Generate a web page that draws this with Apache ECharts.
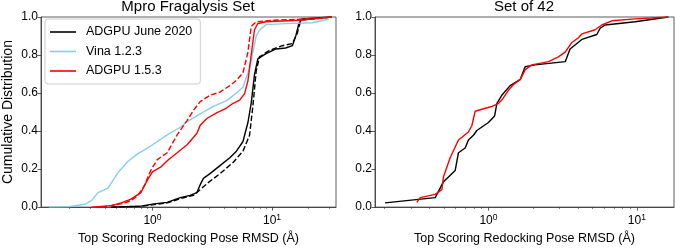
<!DOCTYPE html>
<html>
<head>
<meta charset="utf-8">
<script src="https://cdn.jsdelivr.net/npm/echarts@6/dist/echarts.min.js"></script>
<style>
  html, body { margin: 0; padding: 0; background: #fff; }
  #chart { width: 675px; height: 250px; }
</style>
</head>
<body>
<div id="chart"></div>
<script>
// Mpro Fragalysis set, RMSD (Å) and cumulative fraction
const fragJuneX = [0.452, 0.80, 1.03, 1.33, 1.71, 2.07, 2.35, 2.51, 2.67, 3.03, 3.67, 4.44, 5.04, 5.72, 6.29, 6.70, 7.14, 7.61, 8.92, 10.8, 13.0, 14.8, 15.8, 16.8, 17.9, 31.7];
const fragJuneY = [0, 0.005, 0.017, 0.025, 0.05, 0.062, 0.076, 0.118, 0.151, 0.176, 0.218, 0.26, 0.294, 0.345, 0.445, 0.546, 0.697, 0.78, 0.807, 0.832, 0.837, 0.849, 0.90, 0.966, 0.99, 1.0];

const fragJuneDashX = [0.452, 0.80, 1.33, 1.71, 2.21, 2.51, 2.85, 3.67, 4.73, 5.72, 6.49, 6.92, 7.37, 7.85, 9.50, 12.2, 14.8, 16.3, 17.4, 31.7];
const fragJuneDashY = [0, 0.004, 0.022, 0.045, 0.062, 0.092, 0.123, 0.176, 0.235, 0.294, 0.378, 0.53, 0.714, 0.79, 0.824, 0.849, 0.86, 0.916, 0.983, 1.0];

const fragVinaX = [0.136, 0.199, 0.272, 0.309, 0.351, 0.425, 0.514, 0.621, 0.751, 0.910, 1.10, 1.33, 1.71, 1.95, 2.51, 3.23, 4.17, 5.04, 5.72, 6.49, 7.37, 7.85, 8.92, 13.0, 21.7, 29.8];
const fragVinaY = [0, 0.002, 0.015, 0.034, 0.076, 0.10, 0.18, 0.24, 0.28, 0.31, 0.345, 0.38, 0.42, 0.45, 0.49, 0.53, 0.56, 0.60, 0.63, 0.73, 0.90, 0.93, 0.96, 0.965, 0.97, 0.988];

const fragNewX = [0.309, 0.452, 0.547, 0.662, 0.80, 0.910, 1.0, 1.17, 1.33, 1.61, 1.95, 2.35, 2.51, 2.85, 3.44, 4.17, 4.73, 5.37, 5.90, 6.29, 6.70, 7.14, 7.61, 8.92, 16.8, 31.7];
const fragNewY = [0, 0.008, 0.022, 0.042, 0.076, 0.143, 0.185, 0.21, 0.244, 0.286, 0.328, 0.387, 0.43, 0.466, 0.496, 0.521, 0.546, 0.563, 0.597, 0.664, 0.80, 0.933, 0.966, 0.975, 0.983, 1.0];

const fragNewDashX = [0.374, 0.547, 0.662, 0.751, 0.852, 0.968, 1.10, 1.33, 1.61, 1.95, 2.21, 2.51, 3.03, 3.67, 4.44, 5.04, 5.72, 6.29, 6.70, 7.37, 10.1, 16.8, 31.7];
const fragNewDashY = [0, 0.017, 0.034, 0.059, 0.11, 0.193, 0.25, 0.286, 0.38, 0.455, 0.51, 0.555, 0.588, 0.605, 0.639, 0.667, 0.706, 0.815, 0.95, 0.975, 0.983, 0.988, 1.0];

// Set of 42
const set42JuneX = [0.201, 0.438, 0.498, 0.525, 0.597, 0.628, 0.697, 0.733, 0.792, 0.835, 1.0, 1.10, 1.14, 1.23, 1.40, 1.64, 1.77, 2.06, 3.29, 3.55, 4.26, 5.37, 5.66, 6.11, 9.74, 16.3];
const set42JuneY = [0.022, 0.05, 0.134, 0.151, 0.193, 0.286, 0.311, 0.353, 0.378, 0.403, 0.445, 0.479, 0.546, 0.588, 0.639, 0.672, 0.739, 0.748, 0.765, 0.832, 0.882, 0.908, 0.941, 0.958, 0.975, 1.0];

const set42NewX = [0.329, 0.347, 0.438, 0.485, 0.498, 0.552, 0.628, 0.733, 0.773, 0.813, 1.05, 1.17, 1.23, 1.36, 1.47, 1.64, 1.77, 1.96, 2.54, 2.96, 3.29, 3.65, 4.04, 4.26, 5.24, 5.81, 6.78, 9.74, 16.3];
const set42NewY = [0.025, 0.05, 0.067, 0.092, 0.16, 0.26, 0.353, 0.395, 0.428, 0.504, 0.529, 0.546, 0.563, 0.613, 0.644, 0.672, 0.723, 0.748, 0.765, 0.79, 0.815, 0.866, 0.891, 0.911, 0.933, 0.958, 0.98, 0.99, 1.0];

const titles = ['Mpro Fragalysis Set', 'Set of 42'];
const legendNames = ['ADGPU June 2020', 'Vina 1.2.3', 'ADGPU 1.5.3'];
const majorTicks = [1, 10];
const minorTicksLeft = [0.2, 0.3, 0.4, 0.5, 0.6, 0.7, 0.8, 0.9, 2, 3, 4, 5, 6, 7, 8, 9, 20, 30];
const minorTicksRight = [0.2, 0.3, 0.4, 0.5, 0.6, 0.7, 0.8, 0.9, 2, 3, 4, 5, 6, 7, 8, 9];

const FONT = 'Liberation Sans';
const frame = '#333';
const supDigits = { 1: '0', 10: '1' };

function pairs(xs, ys) {
  return xs.map((x, i) => [x, ys[i]]);
}

function mainX(gridIndex, min, max) {
  return {
    type: 'log', logBase: 10, gridIndex: gridIndex, min: min, max: max,
    name: 'Top Scoring Redocking Pose RMSD (Å)',
    nameLocation: 'middle', nameGap: 20,
    nameTextStyle: { fontFamily: FONT, fontSize: 12.5, color: '#000' },
    axisLine: { show: true, lineStyle: { color: frame, width: 0.8 } },
    axisTick: { show: true, length: 3.5, customValues: majorTicks, lineStyle: { color: frame, width: 0.8 } },
    axisLabel: {
      customValues: majorTicks, margin: 6,
      formatter: (v) => '{b|10}{s|' + supDigits[Math.round(v)] + '}',
      rich: {
        b: { fontFamily: FONT, fontSize: 12, color: '#000' },
        s: { fontFamily: FONT, fontSize: 8.5, color: '#000', padding: [0, 0, 7, 0] }
      }
    },
    splitLine: { show: false }
  };
}

function minorX(gridIndex, min, max, vals) {
  return {
    type: 'log', logBase: 10, gridIndex: gridIndex, min: min, max: max,
    position: 'bottom',
    axisLine: { show: false },
    axisTick: { show: true, length: 2, customValues: vals, lineStyle: { color: frame, width: 0.6 } },
    axisLabel: { show: false },
    splitLine: { show: false }
  };
}

function yAx(gridIndex, withName) {
  return {
    type: 'value', gridIndex: gridIndex, min: 0, max: 1, interval: 0.2,
    name: withName ? 'Cumulative Distribution' : '',
    nameLocation: 'middle', nameGap: 26, nameRotate: 90,
    nameTextStyle: { fontFamily: FONT, fontSize: 14, color: '#000' },
    axisLine: { show: true, lineStyle: { color: frame, width: 0.8 } },
    axisTick: { show: true, length: 3.5, lineStyle: { color: frame, width: 0.8 } },
    axisLabel: { fontFamily: FONT, fontSize: 12, color: '#000', margin: 3,
      formatter: (v) => v.toFixed(1) },
    splitLine: { show: false }
  };
}

function line(name, xAxisIndex, yAxisIndex, data, color, dashed) {
  return {
    name: name, type: 'line', xAxisIndex: xAxisIndex, yAxisIndex: yAxisIndex,
    data: data, symbol: 'none', showSymbol: false, smooth: false, animation: false,
    lineStyle: { color: color, width: 1.4, type: dashed ? [5.5, 2.4] : 'solid' },
    itemStyle: { color: color }
  };
}

const chart = echarts.init(document.getElementById('chart'), null, { renderer: 'canvas' });

chart.setOption({
  backgroundColor: '#fff',
  animation: false,
  title: [
    { text: titles[0], left: 188, top: -1, textAlign: 'center', padding: 0,
      textStyle: { fontFamily: FONT, fontSize: 15, fontWeight: 'normal', color: '#000' } },
    { text: titles[1], left: 524, top: -1, textAlign: 'center', padding: 0,
      textStyle: { fontFamily: FONT, fontSize: 15, fontWeight: 'normal', color: '#000' } }
  ],
  legend: {
    data: legendNames, orient: 'vertical', left: 45, top: 19,
    icon: 'rect', itemWidth: 26, itemHeight: 1.6, itemGap: 5.5,
    padding: [6, 8, 6, 5],
    backgroundColor: 'rgba(255,255,255,0.8)', borderColor: '#ccc', borderWidth: 1, borderRadius: 3,
    textStyle: { fontFamily: FONT, fontSize: 12.5, lineHeight: 14, color: '#000', padding: [0, 0, 0, 5] }
  },
  grid: [
    { left: 40, top: 17, width: 296, height: 198, show: true, borderColor: frame, borderWidth: 0.8, backgroundColor: 'transparent' },
    { left: 375, top: 17, width: 299, height: 198, show: true, borderColor: frame, borderWidth: 0.8, backgroundColor: 'transparent' }
  ],
  xAxis: [
    mainX(0, 0.117, 34.3),
    mainX(1, 0.172, 17.8),
    minorX(0, 0.117, 34.3, minorTicksLeft),
    minorX(1, 0.172, 17.8, minorTicksRight)
  ],
  yAxis: [yAx(0, true), yAx(1, false)],
  series: [
    line('ADGPU June 2020', 0, 0, pairs(fragJuneX, fragJuneY), '#000000', false),
    line('June dashed', 0, 0, pairs(fragJuneDashX, fragJuneDashY), '#000000', true),
    line('Vina 1.2.3', 0, 0, pairs(fragVinaX, fragVinaY), '#87ceeb', false),
    line('ADGPU 1.5.3', 0, 0, pairs(fragNewX, fragNewY), '#ff0000', false),
    line('1.5.3 dashed', 0, 0, pairs(fragNewDashX, fragNewDashY), '#ff0000', true),
    line('ADGPU June 2020', 1, 1, pairs(set42JuneX, set42JuneY), '#000000', false),
    line('ADGPU 1.5.3', 1, 1, pairs(set42NewX, set42NewY), '#ff0000', false)
  ]
});
</script>
</body>
</html>
